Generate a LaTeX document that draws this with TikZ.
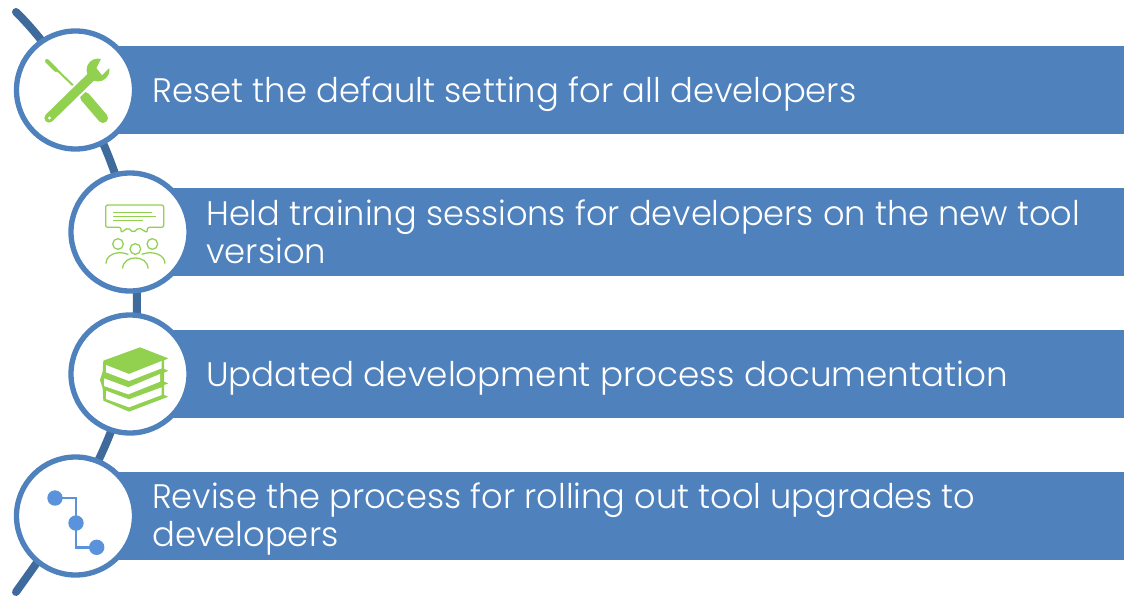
\documentclass[tikz,border=0pt]{standalone}
\usepackage{fontspec}
\setmainfont{Poppins}[UprightFont=* Light,FakeStretch=0.995]
\definecolor{barblue}{HTML}{4F81BD}
\definecolor{spineblue}{HTML}{3E6A9C}
\definecolor{icongreen}{HTML}{92D050}
\definecolor{dotblue}{HTML}{5A93DC}
\tikzset{
  bar/.style={fill=barblue,draw=none},
  ring/.style={circle,draw=barblue,line width=4pt,fill=white,minimum size=88.5pt,inner sep=0pt},
  label/.style={anchor=base west,text=white,inner sep=0pt,font=\fontsize{25.5pt}{28.5pt}\selectfont},
  spine/.style={draw=spineblue,line width=6pt,line cap=round},
  gline/.style={draw=icongreen,line width=0.95pt},
  page/.style={fill=white,draw=none}
}
\begin{document}
\begin{tikzpicture}[x=0.75pt,y=-0.75pt]
\useasboundingbox (0,0) rectangle (1124,596);
% spine
\coordinate (s0) at (16,12);
\coordinate (s1) at (137,300);
\coordinate (s2) at (16,592);
\draw[spine] (s0) .. controls (60,55) and (137,165) .. (s1)
  .. controls (137,430) and (60,530) .. (s2);
% bars
\fill[bar] (73,46) rectangle (1124,134);
\fill[bar] (128,188) rectangle (1124,276);
\fill[bar] (128,330) rectangle (1124,418);
\fill[bar] (73,472) rectangle (1124,560);
% circles
\node[ring] (c1) at (75.5,90) {};
\node[ring] (c2) at (130,232) {};
\node[ring] (c3) at (130,374) {};
\node[ring] (c4) at (75.5,516) {};
% labels
\node[label] (t1) at (152,102) {Reset the default setting for all developers};
\node[label] (t2a) at (206,225) {\addfontfeature{FakeStretch=0.988}Held training sessions for developers on the new tool};
\node[label] (t2b) at (206,263) {version};
\node[label] (t3) at (206,386) {\addfontfeature{FakeStretch=1.005}Updated development process documentation};
\node[label] (t4a) at (152,508) {\addfontfeature{FakeStretch=0.988}Revise the process for rolling out tool upgrades to};
\node[label] (t4b) at (152,546) {developers};
% icon 1: tools
\draw[icongreen,line width=7.5pt,line cap=round] (103,118) -- (85,97);
\draw[icongreen,line width=1.5pt] (85,97) -- (55,68);
\draw[icongreen,line width=3pt,line cap=round] (47,61) -- (56,70);
\draw[white,line width=10pt] (52,115) -- (90,78);
\draw[icongreen,line width=7pt,line cap=round] (49,118) -- (92,76);
\fill[icongreen] (98,70) circle[radius=11.5];
\fill[white] (102.5,56) -- (96.5,68) -- (102,75) -- (112,65) -- (112,56) -- cycle;
\fill[white] (49.5,118) circle[radius=1.7];
% icon 2: speech and people (zoom coordinates)
\begin{scope}[shift={(60,160)},x=0.25pt,y=-0.25pt]
\draw[gline,rounded corners=1.5pt,line join=round] (137,135) -- (311,135) -- (311,202) -- (262,202) -- (262,218) -- (236,203) -- (220,218) -- (204,203) -- (183,218) -- (183,202) -- (137,202) -- cycle;
\draw[gline,line width=1.1pt] (160,158) -- (275,158) (160,169) -- (288,169) (160,182) -- (250,182);
\draw[gline] (174,252) circle[radius=16] (226,267) circle[radius=16] (277,252) circle[radius=16];
\draw[gline] (138,311) .. controls (138,285) and (170,270) .. (205,283);
\draw[gline] (315,311) .. controls (315,285) and (280,270) .. (245,283);
\draw[gline] (188,326) .. controls (188,283) and (264,283) .. (264,326);
\end{scope}
% icon 3: books
\begin{scope}[shift={(60,300)},x=0.25pt,y=-0.25pt]
\fill[icongreen] (130,182) -- (240,142) -- (325,175) -- (312,181) -- (312,207) -- (325,212) -- (312,218) -- (312,245) -- (325,250) -- (312,255) -- (312,285) -- (325,290) -- (207,335) -- (130,302) -- (128,265) -- (120,240) -- (128,215) -- cycle;
\fill[page] (138,195) -- (207,222) -- (305,183) -- (305,205) -- (207,243) -- (138,217) -- cycle;
\fill[page] (132,235) -- (205,262) -- (300,222) -- (300,245) -- (205,283) -- (132,258) -- cycle;
\fill[page] (138,272) -- (207,298) -- (305,262) -- (305,285) -- (207,322) -- (138,297) -- cycle;
\end{scope}
% icon 4: path
\coordinate (d1) at (55,498);
\coordinate (d2) at (76,523);
\coordinate (d3) at (96.7,547.3);
\draw[dotblue,line width=2pt] (d1) -| (d2) |- (d3);
\fill[dotblue] (d1) circle[radius=7.7] (d2) circle[radius=7.7] (d3) circle[radius=7.7];
\end{tikzpicture}
\end{document}
